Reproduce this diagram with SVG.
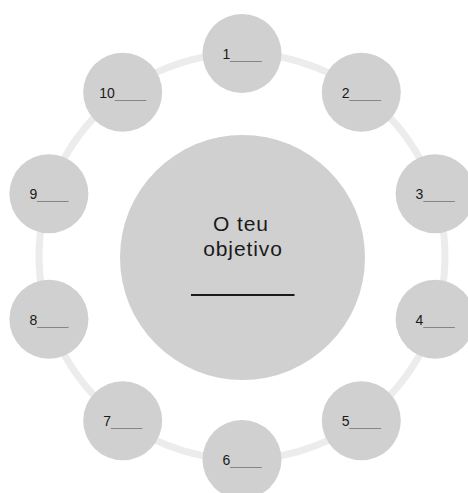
<svg xmlns="http://www.w3.org/2000/svg" width="468" height="493" viewBox="0 0 468 493">
  <style>
    .node { fill: #d0d0d0; }
    .num { font-family: "Liberation Sans", Arial, sans-serif; font-size: 14px; fill: #1a1a1a; text-anchor: middle; }
    .blank { fill: #858585; }
    .goal { font-family: "Liberation Sans", Arial, sans-serif; font-size: 21px; fill: #1a1a1a; text-anchor: middle; letter-spacing: 0.9px; }
  </style>
  <rect width="468" height="493" fill="#ffffff"/>

  <!-- ring linking the steps -->
  <g id="connectors">
    <circle cx="242" cy="256.5" r="203" fill="none" stroke="#ececec" stroke-width="7"/>
  </g>

  <!-- central goal -->
  <g id="goal">
    <circle class="node" cx="242.5" cy="257.5" r="122.5"/>
    <text class="goal" x="241" y="230.5">O teu</text>
    <text class="goal" x="243" y="255.5">objetivo</text>
    <line x1="191" y1="295" x2="294.5" y2="295" stroke="#1a1a1a" stroke-width="2"/>
  </g>

  <!-- steps, clockwise from the top -->
  <g id="step1">
    <circle class="node" cx="242" cy="53.5" r="39.5"/>
    <text class="num" x="242" y="59">1<tspan class="blank">____</tspan></text>
  </g>
  <g id="step2">
    <circle class="node" cx="361.3" cy="92.3" r="39.5"/>
    <text class="num" x="361.3" y="97.8">2<tspan class="blank">____</tspan></text>
  </g>
  <g id="step3">
    <circle class="node" cx="435.1" cy="193.8" r="39.5"/>
    <text class="num" x="435.1" y="199.3">3<tspan class="blank">____</tspan></text>
  </g>
  <g id="step4">
    <circle class="node" cx="435.1" cy="319.2" r="39.5"/>
    <text class="num" x="435.1" y="324.7">4<tspan class="blank">____</tspan></text>
  </g>
  <g id="step5">
    <circle class="node" cx="361.3" cy="420.7" r="39.5"/>
    <text class="num" x="361.3" y="426.2">5<tspan class="blank">____</tspan></text>
  </g>
  <g id="step6">
    <circle class="node" cx="242" cy="459.5" r="39.5"/>
    <text class="num" x="242" y="465">6<tspan class="blank">____</tspan></text>
  </g>
  <g id="step7">
    <circle class="node" cx="122.7" cy="420.7" r="39.5"/>
    <text class="num" x="122.7" y="426.2">7<tspan class="blank">____</tspan></text>
  </g>
  <g id="step8">
    <circle class="node" cx="48.9" cy="319.2" r="39.5"/>
    <text class="num" x="48.9" y="324.7">8<tspan class="blank">____</tspan></text>
  </g>
  <g id="step9">
    <circle class="node" cx="48.9" cy="193.8" r="39.5"/>
    <text class="num" x="48.9" y="199.3">9<tspan class="blank">____</tspan></text>
  </g>
  <g id="step10">
    <circle class="node" cx="122.7" cy="92.3" r="39.5"/>
    <text class="num" x="122.7" y="97.8">10<tspan class="blank">____</tspan></text>
  </g>
</svg>
